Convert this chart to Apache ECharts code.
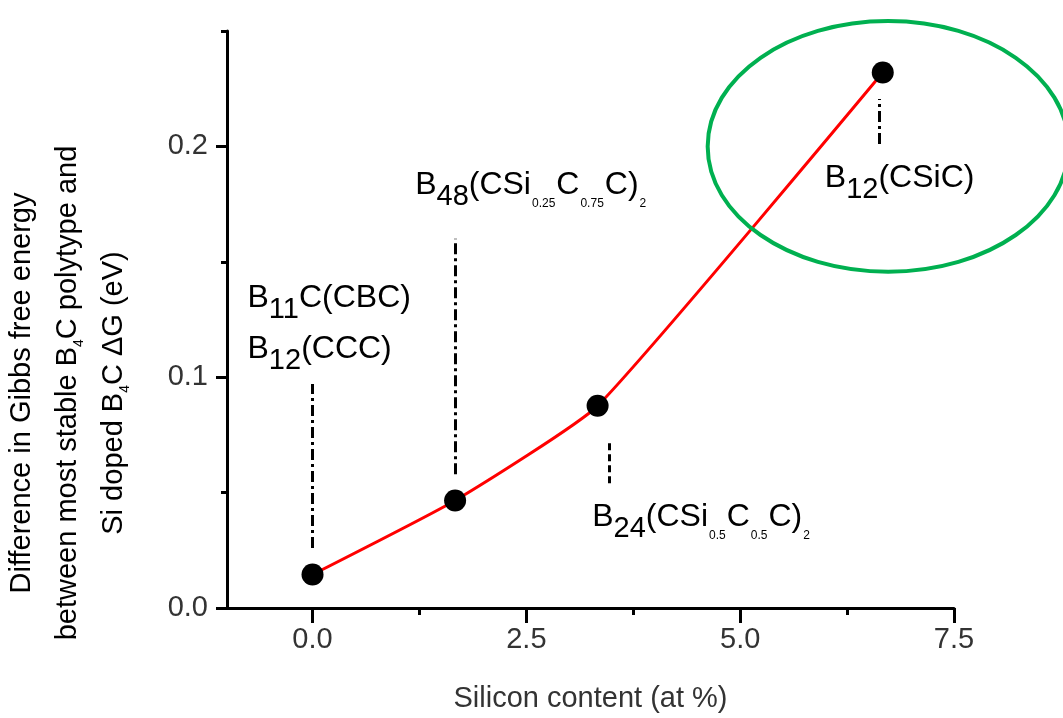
<!DOCTYPE html>
<html>
<head>
<meta charset="utf-8">
<script src="https://cdn.jsdelivr.net/npm/echarts@6/dist/echarts.min.js"></script>
<style>
  html, body { margin: 0; padding: 0; background: #fff; }
  #chart { width: 1063px; height: 718px; }
</style>
</head>
<body>
<div id="chart"></div>
<script>
// silicon content (at %) and ΔG (eV)
const siContent = [0, 1.667, 3.333, 6.667];
const deltaG = [0.0145, 0.0466, 0.0876, 0.232];

const xMajorTicks = [0, 2.5, 5, 7.5];
const xMinorTicks = [1.25, 3.75, 6.25];
const yMajorTicks = [0, 0.1, 0.2];
const yMinorTicks = [0.05, 0.15, 0.25];

// dash-dot guide lines: [x, yFrom, yTo, style]
const guides = [
    [0, 0.026, 0.097, 'dashdot'],
    [1.667, 0.058, 0.160, 'dashdot'],
    [3.47, 0.054, 0.073, 'dash'],
    [6.63, 0.201, 0.2205, 'dashdot'],
];

// structure labels, anchored at the left end, in data coords
const labels = [
    { x: -0.76, y: 0.132, text: '{m|B}{s|11}{m|C(CBC)}' },
    { x: -0.76, y: 0.110, text: '{m|B}{s|12}{m|(CCC)}' },
    { x: 1.20, y: 0.181, text: '{m|B}{s|48}{m|(CSi}{t|0.25}{m|C}{t|0.75}{m|C)}{t|2}' },
    { x: 3.27, y: 0.037, text: '{m|B}{s|24}{m|(CSi}{t|0.5}{m|C}{t|0.5}{m|C)}{t|2}' },
    { x: 5.99, y: 0.184, text: '{m|B}{s|12}{m|(CSiC)}' },
];

// highlight ellipse around the last point
const ring = { cx: 6.73, cy: 0.2, rx: 2.11, ry: 0.0543 };

const fmt = v => v.toFixed(1);
const chart = echarts.init(document.getElementById('chart'));

const dashStyle = {
    dashdot: [11, 4, 3, 4],
    dash: [7, 4],
};

chart.setOption({
    animation: false,
    grid: { left: 227, right: 109, top: 31, bottom: 102 },
    xAxis: [{
        type: 'value',
        min: -1, max: 7.5,
        axisLine: { onZero: false, lineStyle: { color: '#000', width: 3 } },
        axisTick: { customValues: xMajorTicks, length: 15, lineStyle: { color: '#000', width: 3 } },
        axisLabel: { customValues: xMajorTicks, formatter: fmt, fontSize: 29, color: '#333', margin: 17, fontFamily: 'Liberation Sans' },
        splitLine: { show: false },
        name: 'Silicon content (at %)',
        nameLocation: 'middle',
        nameGap: 76,
        nameTextStyle: { fontSize: 29, color: '#333', fontFamily: 'Liberation Sans' },
    }, {
        type: 'value',
        position: 'bottom',
        min: -1, max: 7.5,
        axisLine: { show: false, onZero: false },
        axisTick: { customValues: xMinorTicks, length: 7, lineStyle: { color: '#000', width: 3 } },
        axisLabel: { show: false },
        splitLine: { show: false },
    }],
    yAxis: [{
        type: 'value',
        min: 0, max: 0.25,
        axisLine: { show: true, onZero: false, lineStyle: { color: '#000', width: 3 } },
        axisTick: { show: true, customValues: yMajorTicks, length: 11, lineStyle: { color: '#000', width: 3 } },
        axisLabel: { customValues: yMajorTicks, formatter: fmt, fontSize: 29, color: '#333', margin: 19, fontFamily: 'Liberation Sans' },
        splitLine: { show: false },
    }, {
        type: 'value',
        position: 'left',
        min: 0, max: 0.25,
        axisLine: { show: false, onZero: false },
        axisTick: { show: true, customValues: yMinorTicks, length: 6, lineStyle: { color: '#000', width: 3 } },
        axisLabel: { show: false },
        splitLine: { show: false },
    }],
    series: [{
        type: 'line',
        data: siContent.map((x, i) => [x, deltaG[i]]),
        smooth: 0.15,
        symbol: 'circle',
        symbolSize: 22,
        itemStyle: { color: '#000' },
        lineStyle: { color: '#ff0000', width: 3 },
        z: 3,
        markLine: {
            silent: true,
            symbol: 'none',
            label: { show: false },
            data: guides.map(g => [
                { coord: [g[0], g[1]], lineStyle: { color: '#000', width: 3, type: dashStyle[g[3]] } },
                { coord: [g[0], g[2]] },
            ]),
        },
    }],
});

const px = (x, y) => chart.convertToPixel({ gridIndex: 0 }, [x, y]);
const rich = {
    m: { fontSize: 32, color: '#000', fontFamily: 'Liberation Sans', verticalAlign: 'bottom', padding: [0, 0, 10, 0] },
    s: { fontSize: 29, color: '#000', fontFamily: 'Liberation Sans', verticalAlign: 'bottom' },
    t: { fontSize: 12, color: '#444', fontFamily: 'Liberation Sans', verticalAlign: 'bottom', padding: [0, 1, 2, 1] },
};
const graphics = labels.map(l => {
    const p = px(l.x, l.y);
    return {
        type: 'text', x: p[0], y: p[1], z: 10,
        style: { text: l.text, rich: rich, align: 'left', verticalAlign: 'middle' },
    };
});

const c = px(ring.cx, ring.cy);
const e = px(ring.cx + ring.rx, ring.cy + ring.ry);
graphics.push({
    type: 'ellipse', z: 10,
    shape: { cx: c[0], cy: c[1], rx: e[0] - c[0], ry: c[1] - e[1] },
    style: { fill: 'none', stroke: '#00b050', lineWidth: 4 },
});

// rotated y axis title, three lines
const yTitleRich = {
    a: { fontSize: 29, color: '#333', fontFamily: 'Liberation Sans', verticalAlign: 'bottom', padding: [0, 0, 4, 0] },
    b: { fontSize: 14, color: '#333', fontFamily: 'Liberation Sans', verticalAlign: 'bottom' },
};
const yTitle = [
    '{a|Difference in Gibbs free energy}',
    '{a|between most stable B}{b|4}{a|C polytype and}',
    '{a|Si doped B}{b|4}{a|C ΔG (eV)}',
];
yTitle.forEach((t, i) => {
    graphics.push({
        type: 'text', x: 24 + i * 46, y: 393, rotation: Math.PI / 2, z: 10,
        style: { text: t, rich: yTitleRich, align: 'center', verticalAlign: 'middle' },
    });
});

chart.setOption({ graphic: graphics });
</script>
</body>
</html>
